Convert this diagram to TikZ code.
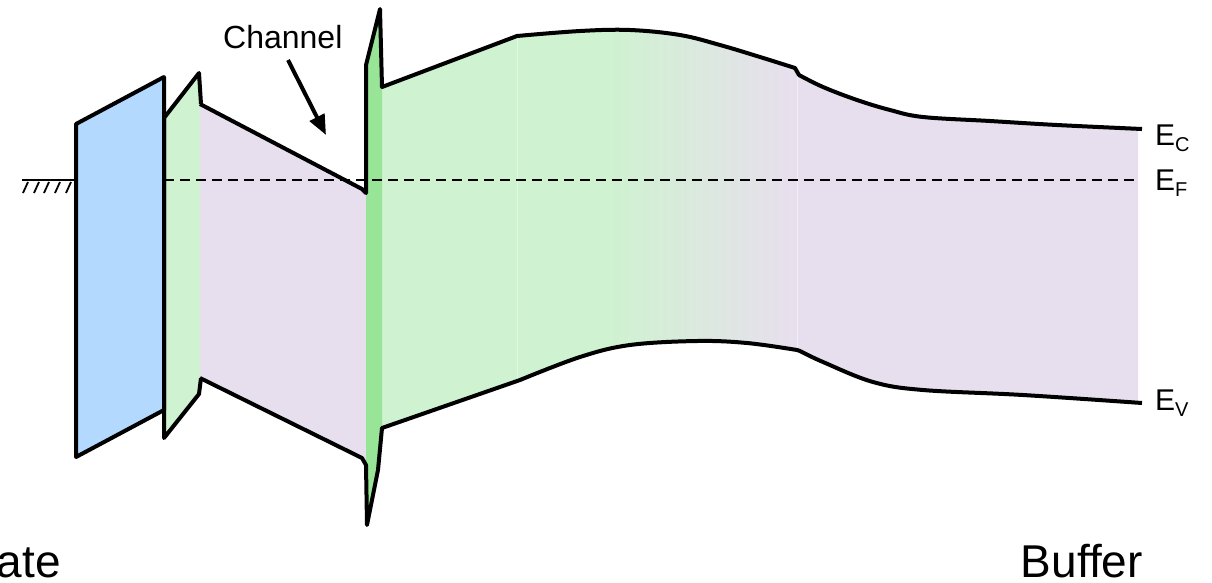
\documentclass[tikz,border=0pt]{standalone}
\usepackage{fontspec}
\setmainfont{Liberation Sans}
\usetikzlibrary{arrows.meta}
\definecolor{gatec}{RGB}{179,217,255}
\definecolor{grnl}{RGB}{207,242,208}
\definecolor{grnd}{RGB}{152,229,152}
\definecolor{purp}{RGB}{232,223,238}
\tikzset{
  band/.style={line width=4pt, line join=round},
  fermi/.style={line width=2pt, dash pattern=on 10pt off 6pt},
  lbl/.style={inner sep=0pt, font=\fontsize{30}{34}\selectfont},
  biglbl/.style={inner sep=0pt, font=\fontsize{46}{50}\selectfont},
  chlbl/.style={inner sep=0pt, font=\fontsize{32}{36}\selectfont},
}
\newcommand{\bandsub}[1]{\raisebox{-6pt}{\fontsize{20}{22}\selectfont #1}}
\begin{document}
\begin{tikzpicture}[x=1pt,y=-1pt]
\useasboundingbox (0,0) rectangle (1212,582);

% main band region
\path[save path=\mainband] (382,87) -- (517,36)
  -- plot[smooth,tension=0.6] coordinates {(517,36) (580,31) (630,30) (680,35) (720,45) (760,57) (795,68)}
  -- (799,75)
  -- plot[smooth,tension=0.6] coordinates {(799,75) (823,87) (857,100) (890,110) (923,117) (990,121) (1057,125) (1138,129)}
  -- (1138,403)
  -- plot[smooth,tension=0.6] coordinates {(1138,403) (1023,395) (923,390) (873,382) (823,362) (800,351)}
  -- (797,350)
  -- plot[smooth,tension=0.6] coordinates {(797,350) (747,343) (697,341) (630,345) (580,357) (520,380)}
  -- (382,428) -- cycle;
\fill[purp, use path=\mainband];
\begin{scope}
  \clip[use path=\mainband];
  \fill[grnl] (380,0) rectangle (610,600);
  \shade[left color=grnl, right color=purp] (609,0) rectangle (797,600);
  \draw[white, opacity=0.5, line width=0.8pt] (797,0) -- (797,600);
  \draw[white, opacity=0.4, line width=0.8pt] (517,0) -- (517,600);
\end{scope}

% left purple region
\fill[purp] (200,104) -- (362,189) -- (366,193) -- (366,465) -- (362,458) -- (200,378) -- cycle;

% dark green spike strip
\fill[grnd] (366,65) -- (380,9) -- (382,87) -- (382,428) -- (378,470) -- (367,525) -- (366,465) -- cycle;

% left barrier
\fill[grnl] (164,118) -- (199,73) -- (200,104) -- (200,378) -- (199,394) -- (164,438) -- cycle;

% gate
\filldraw[gatec, draw=black, band] (76,124) -- (164,77) -- (164,410) -- (76,457) -- cycle;

% Fermi level
\draw[fermi] (164,180) -- (1140,180);

% barrier outline
\draw[band] (201,104) -- (199,73) -- (164,118) -- (164,438) -- (199,394) -- (201,378);

% conduction band
\draw[band] (200,104) -- (362,189) -- (366,193) -- (366,65) -- (380,9) -- (382,87) -- (517,36)
  -- plot[smooth,tension=0.6] coordinates {(517,36) (580,31) (630,30) (680,35) (720,45) (760,57) (795,68)}
  -- (799,75)
  -- plot[smooth,tension=0.6] coordinates {(799,75) (823,87) (857,100) (890,110) (923,117) (990,121) (1057,125) (1142,129)};

% valence band
\draw[band] (200,378) -- (362,458) -- (366,465) -- (367,525) -- (378,470) -- (382,428) -- (520,380)
  -- plot[smooth,tension=0.6] coordinates {(520,380) (580,357) (630,345) (697,341) (747,343) (797,350)}
  -- (800,351)
  -- plot[smooth,tension=0.6] coordinates {(800,351) (823,362) (873,382) (923,390) (1023,395) (1142,403)};

% ground symbol
\draw[line width=2.2pt] (22,180) -- (76,180);
\foreach \hx in {28,39,49,60,71}
  \draw[line width=1.8pt] (\hx,182) -- (\hx-5,193);

% labels
\node[chlbl, anchor=base west] (chan) at (223,48) {Channel};
\coordinate (arrS) at (288,60);
\coordinate (arrE) at (326,135);
\draw[line width=4pt, -{Triangle[length=20pt,width=16pt]}] (arrS) -- (arrE);

\node[lbl, anchor=base west] (ec) at (1155,145) {E\bandsub{C}};
\node[lbl, anchor=base west] (ef) at (1155,190) {E\bandsub{F}};
\node[lbl, anchor=base west] (ev) at (1155,410) {E\bandsub{V}};

\node[biglbl, anchor=base east] (gate) at (61,577) {Gate};
\node[biglbl, anchor=base east] (buf) at (1143,577) {Buffer};
\end{tikzpicture}
\end{document}
